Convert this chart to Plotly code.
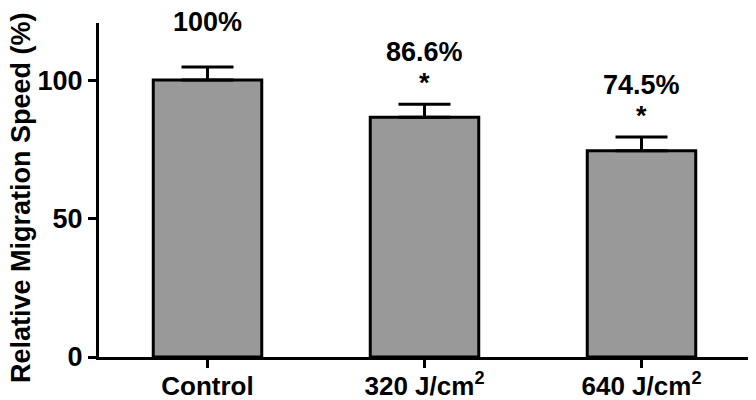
import plotly.graph_objects as go

# ── Data ──────────────────────────────────────────────────────────────────────
groups = ["Control", "320 J/cm<sup>2</sup>", "640 J/cm<sup>2</sup>"]
speed_mean = [100.0, 86.6, 74.5]
speed_err = [4.7, 4.7, 4.9]
pct_labels = ["100%", "86.6%", "74.5%"]
sig_marks = ["", "*", "*"]
y_title = "Relative Migration Speed (%)"

_FONT = "Liberation Sans, Arial, sans-serif"
_BAR_GREY = "#999999"

fig = go.Figure(go.Bar(
    x=groups,
    y=speed_mean,
    width=0.5,
    marker=dict(color=_BAR_GREY, line=dict(color="black", width=3)),
    error_y=dict(
        type="data", symmetric=False,
        array=speed_err, arrayminus=[0] * len(speed_err),
        color="black", thickness=3, width=26,
    ),
))

# percentage labels and significance stars above each error bar
for g, m, e, lab, sig in zip(groups, speed_mean, speed_err, pct_labels, sig_marks):
    top = m + e
    label_shift = 45 if not sig else 52
    fig.add_annotation(x=g, y=top, text=lab, showarrow=False,
                       yanchor="middle", yshift=label_shift,
                       font=dict(family=_FONT, size=27, color="black", weight="bold"))
    if sig:
        fig.add_annotation(x=g, y=top, text=sig, showarrow=False,
                           yanchor="middle", yshift=21,
                           font=dict(family=_FONT, size=27, color="black", weight="bold"))

# y title as a rotated annotation so it can sit a bit below the plot centre
fig.add_annotation(xref="paper", yref="paper", x=0, y=0.5, text=y_title,
                   textangle=-90, showarrow=False, xanchor="center", yanchor="middle",
                   xshift=-78, yshift=-8,
                   font=dict(family=_FONT, size=27, color="black", weight="bold"))

# page body adds an 8px offset, so the figure is 8px smaller than the window
fig.update_layout(
    width=748, height=392,
    plot_bgcolor="white", paper_bgcolor="white",
    margin=dict(l=91, r=6, t=15, b=43),
    showlegend=False,
    font=dict(family=_FONT, size=27, color="black", weight="bold"),
)
fig.update_xaxes(
    range=[-0.5, 2.5], automargin=False,
    showline=True, linecolor="black", linewidth=3,
    ticks="outside", ticklen=8, tickwidth=3, tickcolor="black",
    ticklabelstandoff=-4,
    showgrid=False, zeroline=False,
    tickfont=dict(family=_FONT, size=26, weight="bold"),
)
fig.update_yaxes(
    range=[0, 120.6], automargin=False,
    tickvals=[0, 50, 100],
    showline=True, linecolor="black", linewidth=3,
    ticks="outside", ticklen=8, tickwidth=3, tickcolor="black",
    showgrid=False, zeroline=False,
    tickfont=dict(family=_FONT, size=27, weight="bold"),
)

fig.write_html("out.html")
